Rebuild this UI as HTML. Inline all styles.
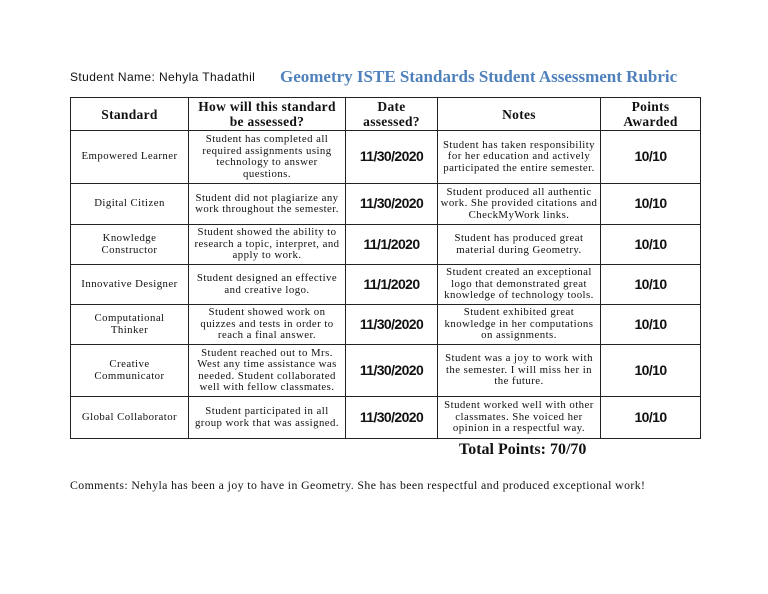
<!DOCTYPE html>
<html><head><meta charset="utf-8"><style>
body{margin:0;width:768px;height:594px;background:#fff;position:relative;overflow:hidden;font-family:"Liberation Serif",serif;color:#111}
.a{position:absolute;white-space:nowrap}
table{position:absolute;left:70px;top:97px;border-collapse:collapse;table-layout:fixed;width:630px}
td{border:1.5px solid #222;text-align:center;vertical-align:middle;padding:0;font-size:10.8px;line-height:11.5px;letter-spacing:0.45px;overflow:hidden;white-space:nowrap}
tr.h td{font-weight:bold;font-size:13.5px;line-height:15px;height:32px;letter-spacing:0.3px}
.d,.p{font-family:"Liberation Sans",sans-serif;font-weight:bold;font-size:14px;letter-spacing:-0.6px!important}
</style></head><body>
<div class="a" style="left:70px;top:70px;font-family:'Liberation Sans',sans-serif;font-size:12px;letter-spacing:0.4px">Student Name: Nehyla Thadathil</div>
<div class="a" style="left:280px;top:67px;font-size:17px;color:#4f81bd;font-weight:bold">Geometry ISTE Standards Student Assessment Rubric</div>
<table>
<colgroup><col style="width:118px"><col style="width:157px"><col style="width:92px"><col style="width:163px"><col style="width:100px"></colgroup>
<tr class="h"><td>Standard</td><td>How will this standard<br>be assessed?</td><td>Date<br>assessed?</td><td>Notes</td><td>Points<br>Awarded</td></tr>
<tr style="height:53px"><td>Empowered Learner</td><td>Student has completed all<br>required assignments using<br>technology to answer<br>questions.</td><td class="d">11/30/2020</td><td>Student has taken responsibility<br>for her education and actively<br>participated the entire semester.</td><td class="p">10/10</td></tr>
<tr style="height:41px"><td>Digital Citizen</td><td>Student did not plagiarize any<br>work throughout the semester.</td><td class="d">11/30/2020</td><td>Student produced all authentic<br>work. She provided citations and<br>CheckMyWork links.</td><td class="p">10/10</td></tr>
<tr style="height:40px"><td>Knowledge<br>Constructor</td><td>Student showed the ability to<br>research a topic, interpret, and<br>apply to work.</td><td class="d">11/1/2020</td><td>Student has produced great<br>material during Geometry.</td><td class="p">10/10</td></tr>
<tr style="height:40px"><td>Innovative Designer</td><td>Student designed an effective<br>and creative logo.</td><td class="d">11/1/2020</td><td>Student created an exceptional<br>logo that demonstrated great<br>knowledge of technology tools.</td><td class="p">10/10</td></tr>
<tr style="height:40px"><td>Computational<br>Thinker</td><td>Student showed work on<br>quizzes and tests in order to<br>reach a final answer.</td><td class="d">11/30/2020</td><td>Student exhibited great<br>knowledge in her computations<br>on assignments.</td><td class="p">10/10</td></tr>
<tr style="height:52px"><td>Creative<br>Communicator</td><td>Student reached out to Mrs.<br>West any time assistance was<br>needed. Student collaborated<br>well with fellow classmates.</td><td class="d">11/30/2020</td><td>Student was a joy to work with<br>the semester. I will miss her in<br>the future.</td><td class="p">10/10</td></tr>
<tr style="height:42px"><td>Global Collaborator</td><td>Student participated in all<br>group work that was assigned.</td><td class="d">11/30/2020</td><td>Student worked well with other<br>classmates. She voiced her<br>opinion in a respectful way.</td><td class="p">10/10</td></tr>
</table>
<div class="a" style="left:459px;top:441px;font-size:16px;font-weight:bold">Total Points: 70/70</div>
<div class="a" style="left:70px;top:478px;font-size:11.8px;letter-spacing:0.4px">Comments: Nehyla has been a joy to have in Geometry. She has been respectful and produced exceptional work!</div>
</body></html>
